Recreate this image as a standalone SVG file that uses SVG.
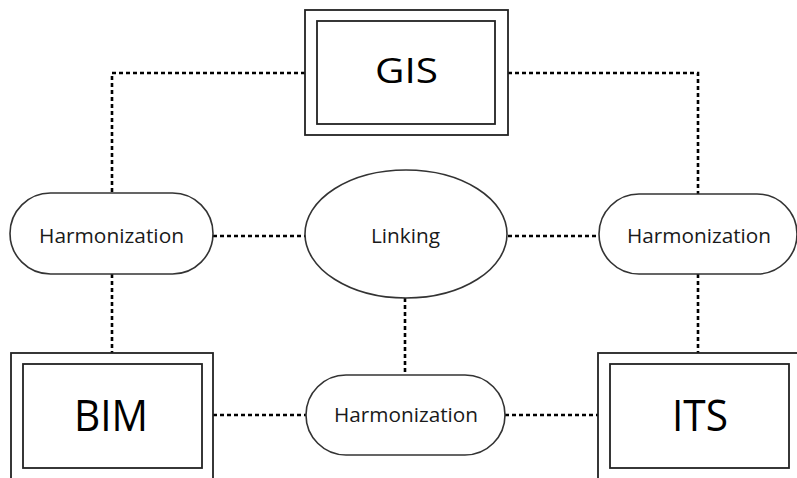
<svg xmlns="http://www.w3.org/2000/svg" width="797" height="478" viewBox="0 0 797 478">
<style>
.box{fill:#fff;stroke:#222;stroke-width:1.8}
.shape{fill:#fff;stroke:#333;stroke-width:1.6}
.big{font-family:"Open Sans","Liberation Sans",sans-serif;fill:#000;text-anchor:middle}
.lbl{font-family:"Open Sans","Liberation Sans",sans-serif;font-size:20px;fill:#1a1a1a;text-anchor:middle}
.dash{fill:none;stroke:#000;stroke-width:2.6;stroke-dasharray:4 3}
</style>
<rect width="797" height="478" fill="#fff"/>
<g id="connectors">
<path class="dash" d="M305 73 H112 V193"/>
<path class="dash" d="M508 73 H698 V194"/>
<path class="dash" d="M112 274 V353"/>
<path class="dash" d="M698 274 V353"/>
<path class="dash" d="M213 236 H305"/>
<path class="dash" d="M508 236 H599"/>
<path class="dash" d="M405 298 V375"/>
<path class="dash" d="M213 415 H306"/>
<path class="dash" d="M505 415 H598"/>
</g>
<g id="gis">
<rect class="box" x="305" y="10" width="203" height="125"/>
<rect class="box" x="317" y="21" width="178" height="103"/>
<text class="big" x="406.5" y="83" font-size="35" textLength="63" lengthAdjust="spacingAndGlyphs">GIS</text>
</g>
<g id="bim">
<rect class="box" x="11" y="353" width="202" height="140"/>
<rect class="box" x="23" y="364" width="179" height="104"/>
<text class="big" x="111" y="431" font-size="43" textLength="74" lengthAdjust="spacingAndGlyphs">BIM</text>
</g>
<g id="its">
<rect class="box" x="598" y="353" width="220" height="140"/>
<rect class="box" x="610" y="364" width="179" height="104"/>
<text class="big" x="700" y="431" font-size="43" textLength="56" lengthAdjust="spacingAndGlyphs">ITS</text>
</g>
<g id="harm-left">
<rect class="shape" x="10" y="193" width="203" height="81" rx="40.5"/>
<text class="lbl" x="111.5" y="243" textLength="145" lengthAdjust="spacingAndGlyphs">Harmonization</text>
</g>
<g id="harm-right">
<rect class="shape" x="599" y="194" width="198" height="80" rx="40"/>
<text class="lbl" x="699" y="243" textLength="144" lengthAdjust="spacingAndGlyphs">Harmonization</text>
</g>
<g id="harm-bottom">
<rect class="shape" x="306" y="375" width="199" height="80" rx="40"/>
<text class="lbl" x="406" y="422" textLength="144" lengthAdjust="spacingAndGlyphs">Harmonization</text>
</g>
<g id="linking">
<ellipse class="shape" cx="406" cy="234" rx="101" ry="64"/>
<text class="lbl" x="405.5" y="243" textLength="69" lengthAdjust="spacingAndGlyphs">Linking</text>
</g>
</svg>
